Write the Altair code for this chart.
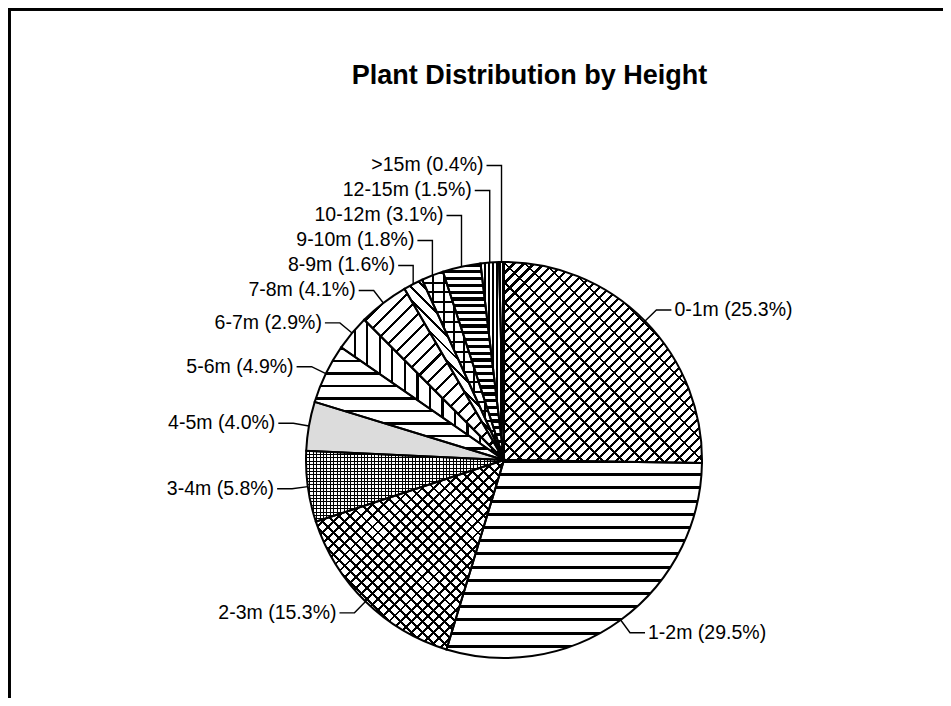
import math
import altair as alt
import pandas as pd

# ---------------- data ----------------
HEIGHT_CLASSES = ["0-1m", "1-2m", "2-3m", "3-4m", "4-5m", "5-6m", "6-7m",
                  "7-8m", "8-9m", "9-10m", "10-12m", "12-15m", ">15m"]
SHARES = [25.3, 29.5, 15.3, 5.8, 4.0, 4.9, 2.9, 4.1, 1.6, 1.8, 3.1, 1.5, 0.4]
TITLE = "Plant Distribution by Height"

# ---------------- styles ----------------
# hatch patterns: (direction, period px, line width px); first one is the base
PATTERNS = {
    "0-1m": [("up", 7.0, 2.2), ("down", 14.0, 1.8)],
    "1-2m": [("h", 13.3, 3.0)],
    "2-3m": [("up", 7.8, 2.0), ("down", 7.8, 2.0)],
    "3-4m": [("h", 3.4, 1.0), ("v", 3.4, 1.0)],
    "4-5m": [("solid", "#dcdcdc")],
    "5-6m": [("h", 12.5, 2.2)],
    "6-7m": [("v", 13.0, 2.2)],
    "7-8m": [("up", 11.0, 2.2)],
    "8-9m": [("down", 9.0, 2.0)],
    "9-10m": [("h", 10.0, 2.0), ("v", 10.0, 2.0)],
    "10-12m": [("h", 6.7, 3.3)],
    "12-15m": [("v", 4.0, 2.0)],
    ">15m": [("v", 3.0, 1.6)],
}
FONT = "Liberation Sans"
W, H = 935, 690          # plot area
CX, CY = 496, 452        # pie centre inside the plot area (px)
R = 198                  # pie radius (px)
LABEL_R = 1.08           # radial position of leader elbows (in radii)
LABEL_GAP = 25.0 / R     # min vertical spacing between stacked labels
LEADER_H = 15.0 / R      # horizontal leader length

XD = [-CX / R, (W - CX) / R]
YD = [-(H - CY) / R, CY / R]

# ---------------- derived table ----------------
total = sum(SHARES)
starts, ends, acc = [], [], 0.0
for s in SHARES:
    starts.append(acc)
    acc += s
    ends.append(acc)
labels = [f"{c} ({s:.1f}%)" for c, s in zip(HEIGHT_CLASSES, SHARES)]
df = pd.DataFrame({"cls": HEIGHT_CLASSES, "share": SHARES, "start": starts,
                   "end": ends, "label": labels})


def wedge_bbox(a0, a1):
    pts = [(0.0, 0.0), (R * math.sin(a0), -R * math.cos(a0)),
           (R * math.sin(a1), -R * math.cos(a1))]
    for k in range(4):
        for a in (k * math.pi / 2, k * math.pi / 2 + 2 * math.pi):
            if a0 <= a <= a1:
                pts.append((R * math.sin(a), -R * math.cos(a)))
    xs_ = [p[0] for p in pts]
    ys_ = [p[1] for p in pts]
    return max(max(xs_) - min(xs_), 1.0), max(max(ys_) - min(ys_), 1.0)


def hatch(kind, period, lw, w, h, bg):
    if kind == "h":
        ext, g = h, dict(x1=0, y1=0, x2=0, y2=1)
    elif kind == "v":
        ext, g = w, dict(x1=0, y1=0, x2=1, y2=0)
    elif kind == "up":
        lam = (w + h) / (w * w + h * h)
        ext, g = (w + h) / math.sqrt(2), dict(x1=0, y1=0, x2=lam * w, y2=lam * h)
    else:  # down
        lam = (w + h) / (w * w + h * h)
        ext, g = (w + h) / math.sqrt(2), dict(x1=0, y1=1, x2=lam * w, y2=1 - lam * h)
    n = max(1, int(round(ext / period)))
    f = min(0.9, lw / (ext / n))
    stops = []
    for k in range(n):
        a, b, c = k / n, (k + f) / n, (k + 1) / n
        stops += [{"offset": a, "color": "black"}, {"offset": b, "color": "black"},
                  {"offset": b, "color": bg}, {"offset": c, "color": bg}]
    out = {"gradient": "linear", "stops": stops}
    out.update(g)
    return out


xs = alt.Scale(domain=XD, nice=False, zero=False)
ys = alt.Scale(domain=YD, nice=False, zero=False)
theta = alt.Theta("start:Q", scale=alt.Scale(domain=[0, total]))
theta2 = alt.Theta2("end:Q")
cxe = alt.X(datum=0, scale=xs, axis=None)
cye = alt.Y(datum=0, scale=ys, axis=None)

layers = []
for i, cls in enumerate(HEIGHT_CLASSES):
    a0 = 2 * math.pi * starts[i] / total
    a1 = 2 * math.pi * ends[i] / total
    w, h = wedge_bbox(a0, a1)
    for j, spec in enumerate(PATTERNS[cls]):
        if spec[0] == "solid":
            fill = spec[1]
        else:
            fill = hatch(spec[0], spec[1], spec[2], w, h,
                         "white" if j == 0 else "rgba(255,255,255,0)")
        layers.append(
            alt.Chart(df).transform_filter(alt.datum.cls == cls)
            .mark_arc(outerRadius=R, fill=fill)
            .encode(theta=theta, theta2=theta2, x=cxe, y=cye)
        )

# outlines
layers.append(
    alt.Chart(df).mark_arc(outerRadius=R, fillOpacity=0, stroke="black", strokeWidth=2)
    .encode(theta=theta, theta2=theta2, x=cxe, y=cye)
)

# ---------------- labels and leader lines ----------------
mids = [2 * math.pi * (s + e) / 2 / total for s, e in zip(starts, ends)]
elbow = {}
prev_y = None
for i in range(len(HEIGHT_CLASSES)):
    sx, cy = math.sin(mids[i]), math.cos(mids[i])
    ex, ey = LABEL_R * sx, LABEL_R * cy
    if sx < 0 and cy > -0.5:
        if prev_y is not None and ey < prev_y + LABEL_GAP:
            ey = prev_y + LABEL_GAP
            ex = sx
        prev_y = ey
    elbow[i] = (ex, ey)

lead_rows, text_rows = [], []
for i, lab in enumerate(labels):
    sx, cy = math.sin(mids[i]), math.cos(mids[i])
    ex, ey = elbow[i]
    side = 1 if sx >= 0 else -1
    tx = ex + side * LEADER_H
    lead_rows += [{"label": lab, "o": 0, "x": sx, "y": cy},
                  {"label": lab, "o": 1, "x": ex, "y": ey},
                  {"label": lab, "o": 2, "x": tx, "y": ey}]
    text_rows.append({"label": lab, "x": tx, "y": ey, "side": "right" if side > 0 else "left"})
lead_df = pd.DataFrame(lead_rows)
text_df = pd.DataFrame(text_rows)

layers.append(
    alt.Chart(lead_df).mark_line(color="black", strokeWidth=1.4)
    .encode(x=alt.X("x:Q", scale=xs, axis=None), y=alt.Y("y:Q", scale=ys, axis=None),
            detail="label:N", order="o:Q")
)
for side, align, dx in (("right", "left", 3), ("left", "right", -3)):
    layers.append(
        alt.Chart(text_df).transform_filter(alt.datum.side == side)
        .mark_text(align=align, baseline="middle", dx=dx, fontSize=19.5, font=FONT, color="black")
        .encode(x=alt.X("x:Q", scale=xs, axis=None), y=alt.Y("y:Q", scale=ys, axis=None),
                text="label:N")
    )

# frame (left and top edges)
layers.append(alt.Chart(df).mark_rule(color="black", strokeWidth=2.5)
              .encode(x=alt.value(1), y=alt.value(0), y2=alt.value(H)))
layers.append(alt.Chart(df).mark_rule(color="black", strokeWidth=2.5)
              .encode(x=alt.value(0), x2=alt.value(W), y=alt.value(1)))

chart = alt.layer(*layers).properties(
    width=W, height=H,
    autosize=alt.AutoSizeParams(type="none"),
    padding=0,
    background="white",
    title=alt.TitleParams(TITLE, fontSize=27, font=FONT, fontWeight="bold", color="black",
                          anchor="middle", baseline="alphabetic", offset=0, dx=54, dy=104),
).configure_view(strokeWidth=0)

chart.save("out.html", embed_options={"renderer": "svg", "actions": False})
